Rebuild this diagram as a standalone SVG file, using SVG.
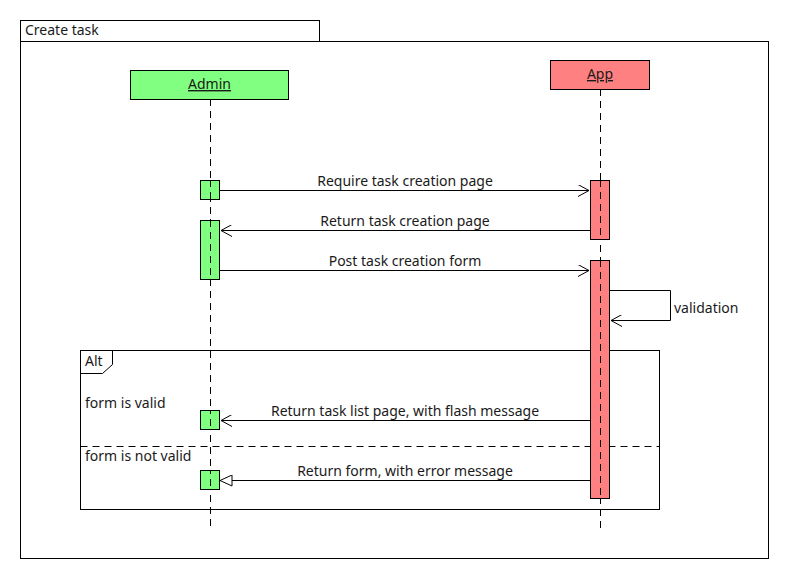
<svg xmlns="http://www.w3.org/2000/svg" width="790" height="580" viewBox="0 0 790 580">
<style>
text{font-family:"Noto Sans","Open Sans","DejaVu Sans",sans-serif;font-size:14px;fill:#1a1a1a}
.c{text-anchor:middle}
.ln{stroke:#000;stroke-width:1;fill:none}
.life{stroke:#000;stroke-width:1;stroke-dasharray:7,5;fill:none}
.ga{fill:#80FF80;stroke:#000;stroke-width:1}
.ra{fill:#FF8080;stroke:#000;stroke-width:1}
</style>
<defs>
<marker id="open" viewBox="0 0 12 12" refX="11" refY="6" markerWidth="12" markerHeight="12" markerUnits="userSpaceOnUse" orient="auto">
<path d="M0,0 L11,6 L0,12" fill="none" stroke="#000" stroke-width="1"/>
</marker>
<marker id="tri" viewBox="0 0 14 12" refX="13" refY="6" markerWidth="14" markerHeight="12" markerUnits="userSpaceOnUse" orient="auto">
<path d="M1,0.5 L13,6 L1,11.5 Z" fill="#fff" stroke="#000" stroke-width="1"/>
</marker>
</defs>
<rect width="790" height="580" fill="#fff"/>
<g id="frame">
<rect x="20.5" y="41.5" width="748" height="517" class="ln"/>
<rect x="20.5" y="20.5" width="299" height="21" class="ln"/>
<text x="25" y="35">Create task</text>
</g>
<g id="lifelines">
<line x1="210.5" y1="99" x2="210.5" y2="530" class="life"/>
<line x1="600.5" y1="89" x2="600.5" y2="528" class="life"/>
</g>
<g id="admin">
<rect x="130.5" y="70.5" width="158" height="29" class="ga"/>
<text x="209.5" y="89" class="c" text-decoration="underline">Admin</text>
</g>
<g id="app">
<rect x="550.5" y="60.5" width="99" height="29" class="ra"/>
<text x="600" y="79" class="c" text-decoration="underline">App</text>
</g>
<g id="alt">
<rect x="80.5" y="350.5" width="579" height="159" class="ln"/>
<path d="M80.5,373.5 H102.5 L112.5,364.5 V350.5" class="ln"/>
<text x="85" y="366">Alt</text>
<text x="85" y="408">form is valid</text>
<line x1="80.5" y1="446.5" x2="659.5" y2="446.5" class="life" stroke-dasharray="8,5"/>
<text x="85" y="461">form is not valid</text>
</g>
<g id="activations">
<rect x="200.5" y="180.5" width="19" height="19" class="ga"/>
<rect x="200.5" y="220.5" width="19" height="59" class="ga"/>
<rect x="200.5" y="410.5" width="19" height="19" class="ga"/>
<rect x="200.5" y="470.5" width="19" height="19" class="ga"/>
<rect x="590.5" y="180.5" width="19" height="59" class="ra"/>
<rect x="590.5" y="260.5" width="19" height="238" class="ra"/>
</g>
<g id="dashes-over">
<line x1="210.5" y1="180" x2="210.5" y2="200" class="life"/>
<line x1="210.5" y1="220" x2="210.5" y2="280" class="life"/>
<line x1="210.5" y1="410" x2="210.5" y2="430" class="life" stroke-dashoffset="3"/>
<line x1="210.5" y1="470" x2="210.5" y2="490" class="life" stroke-dashoffset="3"/>
<line x1="600.5" y1="180" x2="600.5" y2="240" class="life"/>
<line x1="600.5" y1="260" x2="600.5" y2="499" class="life"/>
</g>
<g id="connectors">
<line x1="220" y1="190.5" x2="589" y2="190.5" class="ln" marker-end="url(#open)"/>
<text x="405" y="186" class="c">Require task creation page</text>
<line x1="590" y1="230.5" x2="221" y2="230.5" class="ln" marker-end="url(#open)"/>
<text x="405" y="226" class="c">Return task creation page</text>
<line x1="220" y1="270.5" x2="589" y2="270.5" class="ln" marker-end="url(#open)"/>
<text x="405" y="266" class="c">Post task creation form</text>
<path d="M610,290.5 H670.5 V320.5 H611" class="ln" marker-end="url(#open)"/>
<text x="674" y="313">validation</text>
<line x1="590" y1="420.5" x2="221" y2="420.5" class="ln" marker-end="url(#open)"/>
<text x="405" y="416" class="c">Return task list page, with flash message</text>
<line x1="590" y1="480.5" x2="220" y2="480.5" class="ln" marker-end="url(#tri)"/>
<text x="405" y="476" class="c">Return form, with error message</text>
</g>
</svg>
